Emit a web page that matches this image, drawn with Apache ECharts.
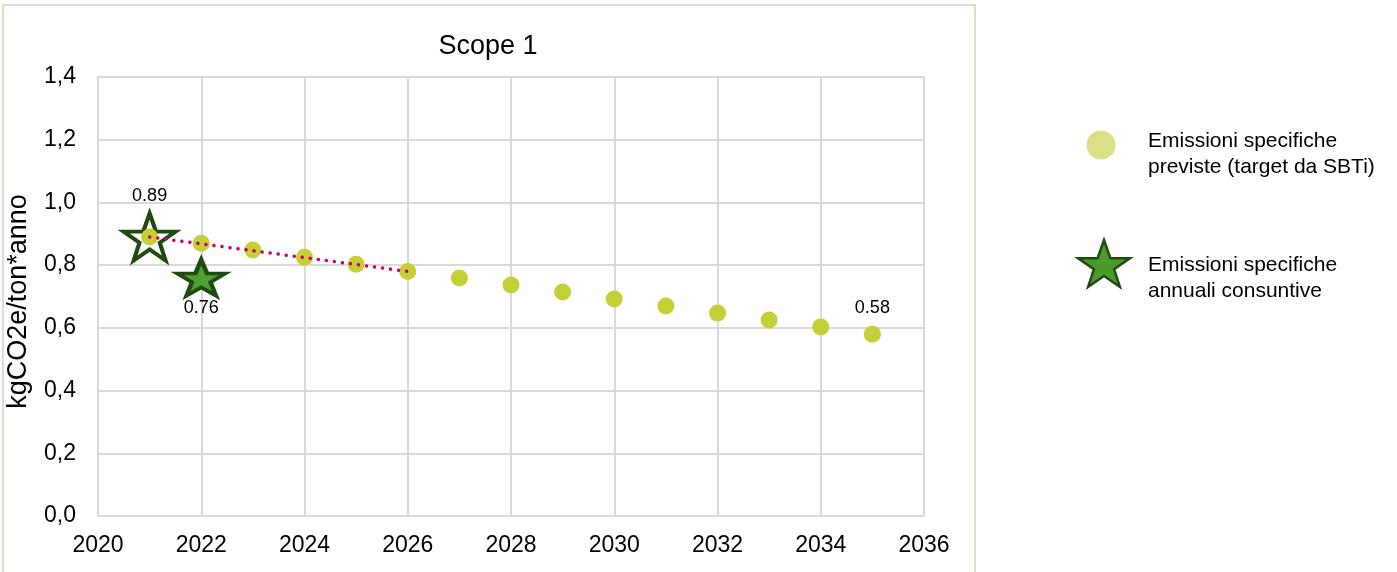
<!DOCTYPE html>
<html>
<head>
<meta charset="utf-8">
<script src="https://cdn.jsdelivr.net/npm/echarts@6/dist/echarts.min.js"></script>
<style>html,body{margin:0;padding:0;background:#fff;}#c{width:1397px;height:572px;}</style>
</head>
<body>
<div id="c"></div>
<script>
const years = [2021,2022,2023,2024,2025,2026,2027,2028,2029,2030,2031,2032,2033,2034,2035];
const targetValues = [0.89,0.87,0.848,0.825,0.803,0.78,0.759,0.737,0.714,0.692,0.670,0.647,0.625,0.603,0.580];
const actualYears = [2021,2022];
const actualValues = [0.89,0.76];
const trendYears = [2021,2026];
const trendValues = [0.89,0.78];
const xTicks = [2020,2022,2024,2026,2028,2030,2032,2034,2036];
const yTicks = [0,0.2,0.4,0.6,0.8,1.0,1.2,1.4];
const nameTarget = 'Emissioni specifiche\npreviste (target da SBTi)';
const nameActual = 'Emissioni specifiche\nannuali consuntive';

const STAR_PTS = [[50,0],[61.8,35.1],[98.1,35.1],[68.8,56.7],[79.4,90.9],[50,69.8],[20.6,90.9],[31.2,56.7],[1.9,35.1],[38.2,35.1]];
const STAR = 'path://M' + STAR_PTS.map(p=>p.join(',')).join(' L') + ' Z';
const font = 'Liberation Sans, Arial, sans-serif';

// legend star icon: star shape fitted into a box (legend glyph, not a data mark)
function starIcon(x, y, w, h){
  const minX = 1.9, maxX = 98.1, minY = 0, maxY = 90.9;
  return STAR_PTS.map(p=>[x + (p[0]-minX)/(maxX-minX)*w, y + (p[1]-minY)/(maxY-minY)*h]);
}

const chart = echarts.init(document.getElementById('c'), null, {renderer:'canvas'});
chart.setOption({
  animation:false,
  textStyle:{fontFamily:font},
  title:{text:'Scope 1', left:488, top:33, padding:0, textAlign:'center',
    textStyle:{fontFamily:font, fontSize:27, fontWeight:'normal', color:'#000'}},
  graphic:[
    {type:'rect', shape:{x:3, y:5, width:972, height:580},
      style:{fill:'none', stroke:'#e2ddc8', lineWidth:2}, silent:true, z:-1},
    {type:'circle', shape:{cx:1101, cy:145, r:14.5}, style:{fill:'#d9e087'}, silent:true},
    {type:'text', x:1148, y:128, silent:true,
      style:{text:nameTarget, fontFamily:font, fontSize:21, lineHeight:26, fill:'#000', verticalAlign:'top'}},
    {type:'polygon', shape:{points:starIcon(1078, 240, 52, 47)}, silent:true,
      style:{fill:'#4c9a2a', stroke:'#1f4a12', lineWidth:2.5}},
    {type:'text', x:1148, y:252, silent:true,
      style:{text:nameActual, fontFamily:font, fontSize:21, lineHeight:26, fill:'#000', verticalAlign:'top'}}
  ],
  grid:{left:98, right:473, top:77, bottom:56, outerBoundsMode:'none', containLabel:false},
  xAxis:{type:'value', min:2020, max:2036, interval:2,
    axisLine:{show:false}, axisTick:{show:false},
    splitLine:{show:true, lineStyle:{color:'#d9d9d9', width:2}},
    axisLabel:{fontFamily:font, fontSize:23, color:'#000', margin:18, formatter:v=>String(v)}},
  yAxis:{type:'value', min:0, max:1.4, interval:0.2,
    name:'kgCO2e/ton*anno', nameLocation:'middle', nameGap:66, nameRotate:90,
    nameTextStyle:{fontFamily:font, fontSize:27, color:'#000', padding:[0,10,0,0]},
    axisLine:{show:true, lineStyle:{color:'#d9d9d9', width:2}}, axisTick:{show:false},
    splitLine:{show:true, lineStyle:{color:'#d9d9d9', width:2}},
    axisLabel:{fontFamily:font, fontSize:23, color:'#000', margin:22,
      formatter:v=>v.toFixed(1).replace('.',',')}},
  series:[
    {name:nameTarget, type:'scatter', symbol:'circle', symbolSize:17, z:3,
      itemStyle:{color:'#c3d137', opacity:1},
      data:years.map((y,i)=>({value:[y,targetValues[i]],
        label: i===years.length-1 ? {show:true, position:'top', distance:9, formatter:'0.58', fontSize:18, color:'#000', textBorderWidth:0} : {show:false}}))},
    {name:'trend', type:'line', symbol:'none', z:4,
      lineStyle:{color:'#cc0066', width:3.5, type:[0.1,8], cap:'round', opacity:1},
      data:trendYears.map((y,i)=>[y,trendValues[i]])},
    {name:nameActual, type:'scatter', symbol:STAR, z:2,
      itemStyle:{opacity:1},
      data:[
        {value:[actualYears[0],actualValues[0]], symbolSize:[52,47],
          itemStyle:{color:'#ffffff', borderColor:'#1f4a12', borderWidth:4, opacity:1},
          label:{show:true, position:'top', distance:6, formatter:'0.89', fontSize:18, color:'#000', textBorderWidth:0}},
        {value:[actualYears[1],actualValues[1]], symbolSize:[48,36],
          itemStyle:{color:'#4fa032', borderColor:'#1f4a12', borderWidth:4, opacity:1},
          label:{show:true, position:'bottom', distance:2, formatter:'0.76', fontSize:18, color:'#000', textBorderWidth:0}}
      ]}
  ]
});
</script>
</body>
</html>
